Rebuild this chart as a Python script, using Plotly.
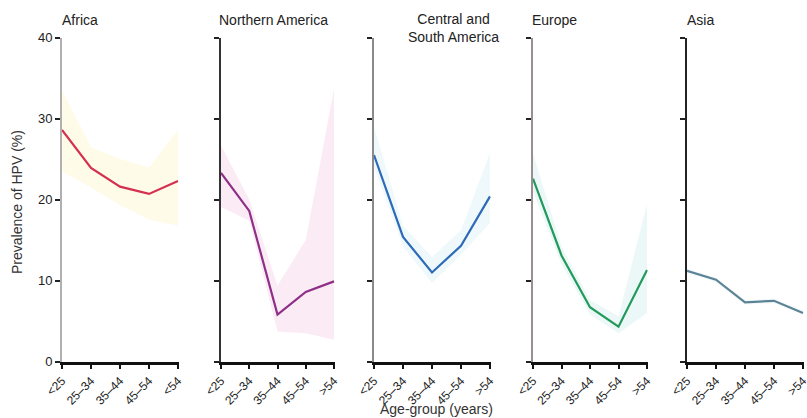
import plotly.graph_objects as go

# ---- data ----
regions = ["Africa", "Northern America", "Central and<br>South America", "Europe", "Asia"]
age_labels_africa = ["<25", "25–34", "35–44", "45–54", "<54"]
age_labels = ["<25", "25–34", "35–44", "45–54", ">54"]

africa = [28.6, 23.9, 21.6, 20.7, 22.3]
africa_hi = [33.5, 26.5, 25.0, 24.0, 28.6]
africa_lo = [23.5, 21.5, 19.3, 17.5, 16.8]

n_america = [23.3, 18.6, 5.8, 8.6, 9.9]
n_america_hi = [26.7, 20.0, 9.4, 15.0, 33.7]
n_america_lo = [19.1, 17.4, 3.7, 3.5, 2.7]

cs_america = [25.5, 15.4, 11.0, 14.3, 20.4]
cs_america_hi = [29.0, 16.8, 12.9, 16.2, 25.8]
cs_america_lo = [24.0, 14.2, 9.7, 13.2, 17.1]

europe = [22.6, 13.1, 6.7, 4.3, 11.3]
europe_hi = [25.7, 14.2, 7.6, 5.6, 19.4]
europe_lo = [21.0, 12.0, 5.8, 3.5, 6.0]

asia = [11.2, 10.1, 7.3, 7.5, 6.0]
asia_hi = [11.5, 10.4, 7.6, 7.8, 6.3]
asia_lo = [10.9, 9.8, 7.0, 7.2, 5.7]

yticks = [0, 10, 20, 30, 40]

series = [
    (regions[0], age_labels_africa, africa, africa_hi, africa_lo),
    (regions[1], age_labels, n_america, n_america_hi, n_america_lo),
    (regions[2], age_labels, cs_america, cs_america_hi, cs_america_lo),
    (regions[3], age_labels, europe, europe_hi, europe_lo),
    (regions[4], age_labels, asia, asia_hi, asia_lo),
]

# ---- styles ----
W, H = 807, 418
line_colors = ["#d4304f", "#8e2f88", "#2f6ab8", "#239a5c", "#5b8597"]
band_colors = ["rgba(253,249,222,0.7)", "rgba(249,228,241,0.75)",
               "rgba(232,246,250,0.7)", "rgba(230,246,246,0.75)", "rgba(232,241,245,0.4)"]
yaxis_line_colors = ["#b0b0b0", "#333333", "#8a8a8a", "#9a8e90", "#222222"]
panel_px = [(62, 178), (221, 334), (374, 490), (533, 647), (687, 803)]
title_px = [(60, "left"), (217, "left"), (453, "center"), (530, "left"), (685, "left")]
y0_px, y40_px = 361.5, 37.7

FONT = "Liberation Sans, Arial, sans-serif"

fig = go.Figure()
layout = dict(
    width=W, height=H,
    margin=dict(l=0, r=0, t=0, b=0, autoexpand=False),
    paper_bgcolor="white", plot_bgcolor="white",
    showlegend=False,
    font=dict(family=FONT, color="#222"),
)

annotations = []
pad = 0.03
for i, (name, labels, vals, hi, lo) in enumerate(series):
    xa = "x" if i == 0 else f"x{i+1}"
    ya = "y" if i == 0 else f"y{i+1}"
    xl = "xaxis" if i == 0 else f"xaxis{i+1}"
    yl = "yaxis" if i == 0 else f"yaxis{i+1}"
    # band
    fig.add_trace(go.Scatter(
        x=labels + labels[::-1], y=hi + lo[::-1],
        fill="toself", fillcolor=band_colors[i], line=dict(width=0),
        mode="lines", hoverinfo="skip", xaxis=xa, yaxis=ya))
    fig.add_trace(go.Scatter(
        x=labels, y=vals, mode="lines",
        line=dict(color=line_colors[i], width=2.2),
        xaxis=xa, yaxis=ya))
    p0, p4 = panel_px[i]
    unit = (p4 - p0) / 4
    d0 = p0 / W
    d1 = (p4 + pad * unit) / W
    layout[xl] = dict(
        domain=[d0, d1], range=[0, 4 + pad], type="category",
        categoryorder="array", categoryarray=labels,
        showline=True, linecolor="#111", linewidth=2.5,
        ticks="outside", ticklen=5, tickwidth=2, tickcolor="#111",
        tickangle=-45, tickfont=dict(size=12, color="#222", family=FONT),
        showgrid=False, zeroline=False, fixedrange=True, automargin=False,
        anchor=ya,
    )
    layout[yl] = dict(
        domain=[1 - y0_px / H, 1 - y40_px / H], range=[0, 40],
        tickvals=yticks, showticklabels=(i == 0),
        showline=True, linecolor=yaxis_line_colors[i], linewidth=2,
        ticks="outside", ticklen=5, tickwidth=2, tickcolor="#222",
        tickfont=dict(size=13, color="#222", family=FONT),
        showgrid=False, zeroline=False, fixedrange=True, automargin=False,
        anchor=xa,
    )
    tx, al = title_px[i]
    annotations.append(dict(
        text=name, x=tx / W, y=1 - (10 if "<br>" not in name else 9) / H,
        xref="paper", yref="paper", xanchor=al, yanchor="top",
        align="center", showarrow=False,
        font=dict(size=14, color="#222", family=FONT)))

annotations.append(dict(
    text="Prevalence of HPV (%)", x=17 / W, y=1 - 202 / H, xref="paper", yref="paper",
    textangle=-90, showarrow=False, xanchor="center", yanchor="middle",
    font=dict(size=14, color="#333", family=FONT)))
annotations.append(dict(
    text="Age-group (years)", x=436 / W, y=1 - 409 / H, xref="paper", yref="paper",
    showarrow=False, xanchor="center", yanchor="middle",
    font=dict(size=14, color="#333", family=FONT)))

layout["annotations"] = annotations
fig.update_layout(**layout)
fig.write_html(
    "out.html",
    config={"displayModeBar": False},
    post_script="document.body.style.margin='0';document.body.style.overflow='hidden';",
)
